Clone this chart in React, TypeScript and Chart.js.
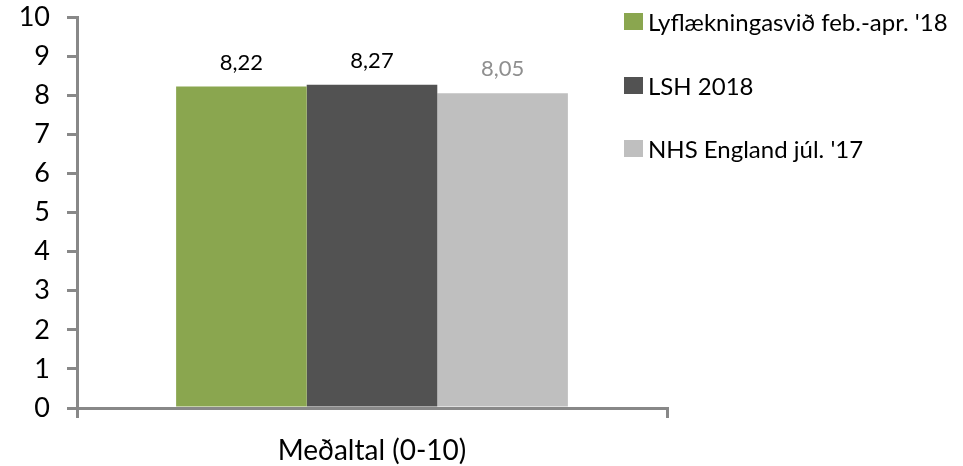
import React, { useEffect, useRef } from "react";
import { Chart, registerables } from "chart.js";

Chart.register(...registerables);

const categories = ["Meðaltal (0-10)"];
const seriesNames = ["Lyflækningasvið feb.-apr. '18", "LSH 2018", "NHS England júl. '17"];
const seriesValues = [[8.22], [8.27], [8.05]];
const seriesColors = ["#8aa64f", "#525252", "#bfbfbf"];
const labelColors = ["#000000", "#000000", "#8f8f8f"];
const yTicksMin = 0;
const yTicksMax = 10;

const FONT = "Lato, 'Open Sans', sans-serif";

const valueLabelPlugin = {
  id: "valueLabels",
  afterDatasetsDraw(chart: any) {
    const ctx = chart.ctx;
    ctx.save();
    ctx.font = `22px ${FONT}`;
    ctx.textAlign = "center";
    ctx.textBaseline = "middle";
    chart.data.datasets.forEach((ds: any, i: number) => {
      const meta = chart.getDatasetMeta(i);
      meta.data.forEach((bar: any, j: number) => {
        const v = ds.data[j] as number;
        ctx.fillStyle = labelColors[i];
        ctx.fillText(v.toFixed(2).replace(".", ","), bar.x, bar.y - 24);
      });
    });
    ctx.restore();
  },
};

export default function App() {
  const ref = useRef<HTMLCanvasElement | null>(null);

  useEffect(() => {
    document.body.style.margin = "0";
    if (!ref.current) return;
    const chart = new Chart(ref.current, {
      type: "bar",
      data: {
        labels: categories,
        datasets: seriesNames.map((name, i) => ({
          label: name,
          data: seriesValues[i],
          backgroundColor: seriesColors[i],
          borderWidth: 0,
          categoryPercentage: 0.664,
          barPercentage: 1,
        })),
      },
      options: {
        animation: false,
        responsive: false,
        maintainAspectRatio: false,
        layout: { padding: { top: 17, right: 296, bottom: 0, left: 0 } },
        plugins: {
          legend: { display: false },
          tooltip: { enabled: false },
        },
        scales: {
          x: {
            offset: true,
            grid: {
              offset: true,
              drawOnChartArea: false,
              tickLength: 10,
              lineWidth: 3,
              color: "#888888",
            },
            border: { color: "#888888", width: 3 },
            ticks: { font: { family: FONT, size: 28 }, color: "#000000", padding: 16 },
            afterFit: (s: any) => {
              s.height = 58;
              s.paddingLeft = 0;
              s.paddingRight = 0;
            },
          },
          y: {
            min: yTicksMin,
            max: yTicksMax,
            ticks: {
              stepSize: 1,
              font: { family: FONT, size: 27 },
              color: "#000000",
              padding: 17,
            },
            grid: {
              drawOnChartArea: false,
              tickLength: 10,
              lineWidth: 3,
              color: "#888888",
            },
            border: { color: "#888888", width: 3 },
            afterFit: (s: any) => {
              s.width = 77;
              s.paddingTop = 0;
              s.paddingBottom = 0;
            },
          },
        },
      },
      plugins: [valueLabelPlugin],
    });
    return () => chart.destroy();
  }, []);

  const legendTops = [21, 85, 148];

  return (
    <div style={{ position: "relative", width: 963, height: 466, background: "#fff" }}>
      <canvas ref={ref} width={963} height={466} style={{ width: 963, height: 466, display: "block" }} />
      {seriesNames.map((name, i) => (
        <div
          key={name}
          style={{
            position: "absolute",
            left: 624,
            top: legendTops[i] - 15,
            height: 30,
            display: "flex",
            alignItems: "center",
            fontFamily: FONT,
            fontSize: 24,
            color: "#000",
            whiteSpace: "nowrap",
          }}
        >
          <span
            style={{
              display: "inline-block",
              width: 19,
              height: 17,
              background: seriesColors[i],
              marginRight: 5,
            }}
          />
          <span>{name}</span>
        </div>
      ))}
    </div>
  );
}
